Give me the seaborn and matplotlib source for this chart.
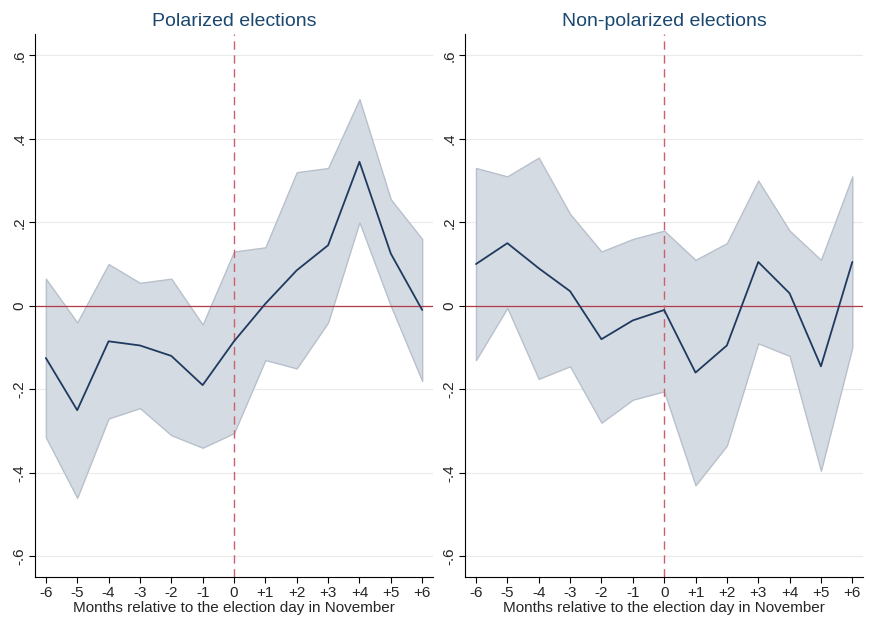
import matplotlib
matplotlib.use("Agg")
import matplotlib.pyplot as plt
import seaborn as sns
import pandas as pd

months = list(range(-6, 7))
month_labels = ["-6", "-5", "-4", "-3", "-2", "-1", "0", "+1", "+2", "+3", "+4", "+5", "+6"]

pol_est = [-0.125, -0.25, -0.085, -0.095, -0.12, -0.19, -0.085, 0.005, 0.085, 0.145, 0.345, 0.125, -0.01]
pol_hi = [0.065, -0.04, 0.10, 0.055, 0.065, -0.045, 0.13, 0.14, 0.32, 0.33, 0.495, 0.255, 0.16]
pol_lo = [-0.315, -0.46, -0.27, -0.245, -0.31, -0.34, -0.305, -0.13, -0.15, -0.04, 0.2, 0.0, -0.18]

non_est = [0.1, 0.15, 0.09, 0.035, -0.08, -0.035, -0.01, -0.16, -0.095, 0.105, 0.03, -0.145, 0.105]
non_hi = [0.33, 0.31, 0.355, 0.22, 0.13, 0.16, 0.18, 0.11, 0.15, 0.3, 0.18, 0.11, 0.31]
non_lo = [-0.13, -0.005, -0.175, -0.145, -0.28, -0.225, -0.205, -0.43, -0.335, -0.09, -0.12, -0.395, -0.1]

yticks = [-0.6, -0.4, -0.2, 0, 0.2, 0.4, 0.6]
ytick_labels = ["-.6", "-.4", "-.2", "0", ".2", ".4", ".6"]

sns.set_style("white")
plt.rcParams['font.family'] = ['Liberation Sans', 'DejaVu Sans']

fig, axes = plt.subplots(1, 2, figsize=(8.72, 6.26), dpi=100)
panels = [("Polarized elections", pol_est, pol_lo, pol_hi),
          ("Non-polarized elections", non_est, non_lo, non_hi)]

for ax, (title, est, lo, hi) in zip(axes, panels):
    df = pd.DataFrame({"month": months, "est": est, "lo": lo, "hi": hi})
    for y in yticks:
        ax.axhline(y, color="#eaeaea", lw=0.8, zorder=0)
    ax.fill_between(df["month"], df["lo"], df["hi"], color="#d5dbe3",
                    edgecolor="#b8c0cb", lw=1, zorder=1)
    sns.lineplot(data=df, x="month", y="est", ax=ax, color="#1f3a5f", lw=1.3, zorder=3)
    ax.axhline(0, color="#b23a48", lw=0.9, zorder=2)
    ax.axvline(0, color="#c9606b", lw=1, ls=(0, (6, 4)), zorder=2)
    ax.set_xlim(-6.35, 6.35)
    ax.set_ylim(-0.65, 0.65)
    ax.set_xticks(months)
    ax.set_xticklabels(month_labels, fontsize=11)
    ax.set_yticks(yticks)
    ax.set_yticklabels(ytick_labels, rotation=90, va="center", fontsize=11)
    ax.tick_params(axis="both", length=4, width=0.8, color="black", left=True, bottom=True, pad=2)
    ax.set_xlabel("Months relative to the election day in November", fontsize=11, labelpad=1)
    ax.set_ylabel("")
    ax.set_title(title, fontsize=14, color="#1a476f", pad=6)
    for s in ["top", "right"]:
        ax.spines[s].set_visible(False)
    for s in ["left", "bottom"]:
        ax.spines[s].set_color("black")
        ax.spines[s].set_linewidth(0.8)

plt.subplots_adjust(left=0.04, right=0.99, top=0.945, bottom=0.078, wspace=0.08)
fig.savefig("out.png")
